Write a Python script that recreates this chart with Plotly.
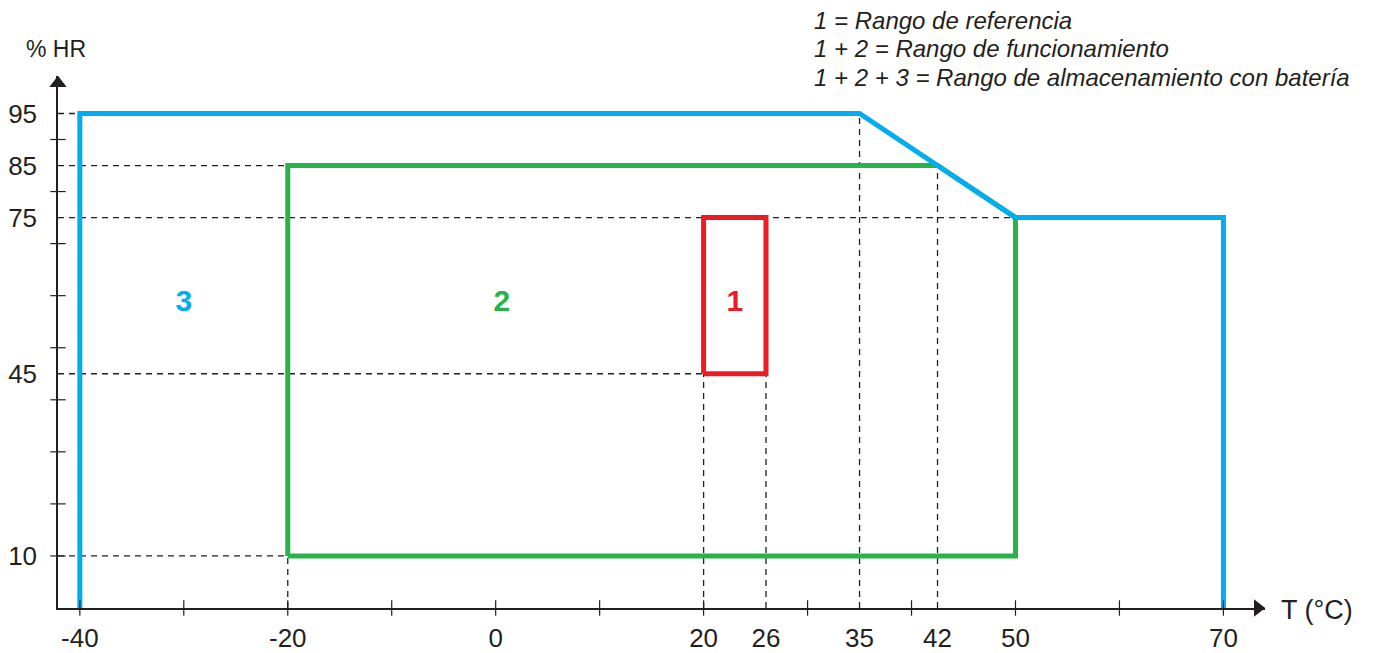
import plotly.graph_objects as go

# zone outlines, T in °C against relative humidity in %
zone3_t = [-40, -40, 35, 50, 70, 70]
zone3_hr = [0, 95, 95, 75, 75, 0]
zone2_t = [-20, -20, 42.5, 50, 50, -20]
zone2_hr = [10, 85, 85, 75, 10, 10]
zone1_t = [20, 20, 26, 26, 20]
zone1_hr = [45, 75, 75, 45, 45]

# dashed guides: horizontal ones run from the HR axis to t_end,
# vertical ones run from the T axis up to hr_end
guide_h_hr = [95, 85, 75, 45, 10]
guide_h_t_end = [-40, -20, 50, 20, -20]
guide_v_t = [-20, 20, 26, 35, 42.5]
guide_v_hr_end = [10, 45, 45, 95, 85]

x_tick_marks = [-40, -30, -20, -10, 0, 10, 20, 30, 40, 50, 60, 70]
x_tick_vals = [-40, -20, 0, 20, 26, 35, 42.5, 50, 70]
x_tick_text = ["-40", "-20", "0", "20", "26", "35", "42", "50", "70"]
y_tick_marks = [10, 20, 30, 40, 50, 60, 70, 80, 90]
y_tick_vals = [10, 45, 75, 85, 95]
y_tick_text = ["10", "45", "75", "85", "95"]

zone_labels = ["3", "2", "1"]
zone_label_t = [-30, 0.6, 23]
zone_label_hr = [58.5, 58.5, 58.5]

legend_lines = [
    "1 = Rango de referencia",
    "1 + 2 = Rango de funcionamiento",
    "1 + 2 + 3 = Rango de almacenamiento con batería",
]

BLUE = "#00AEEF"
GREEN = "#27B24A"
RED = "#ED1C24"
INK = "#231F20"
FONT = "Liberation Sans, Arial, sans-serif"
T_MIN, T_MAX = -42.1, 74
HR_MAX = 102.2

fig = go.Figure()

dash = {"color": INK, "width": 1.3, "dash": "6px,5px"}
for hr, t_end in zip(guide_h_hr, guide_h_t_end):
    fig.add_trace(go.Scatter(x=[T_MIN, t_end], y=[hr, hr], mode="lines", line=dash))
for t, hr_end in zip(guide_v_t, guide_v_hr_end):
    fig.add_trace(go.Scatter(x=[t, t], y=[0, hr_end], mode="lines", line=dash))

fig.add_trace(go.Scatter(x=zone2_t, y=zone2_hr, mode="lines",
                         line={"color": GREEN, "width": 5}))
fig.add_trace(go.Scatter(x=zone3_t, y=zone3_hr, mode="lines",
                         line={"color": BLUE, "width": 5}))
fig.add_trace(go.Scatter(x=zone1_t, y=zone1_hr, mode="lines",
                         line={"color": RED, "width": 5}))

fig.add_trace(go.Scatter(
    x=zone_label_t, y=zone_label_hr, mode="text", text=zone_labels,
    textfont={"family": FONT, "size": 30, "color": [BLUE, GREEN, RED], "weight": "bold"},
))

# tick marks crossing the axes
tick_marker = {"symbol": "line-ns-open", "size": 11, "color": INK,
               "line": {"color": INK, "width": 1.2}}
fig.add_trace(go.Scatter(
    x=x_tick_marks, y=[0] * len(x_tick_marks), mode="markers", cliponaxis=False,
    marker=tick_marker,
))
fig.add_trace(go.Scatter(
    x=[T_MIN] * len(y_tick_marks), y=y_tick_marks, mode="markers", cliponaxis=False,
    marker={**tick_marker, "symbol": "line-ew-open"},
))

# arrow heads
fig.add_trace(go.Scatter(
    x=[T_MAX - 0.7], y=[0], mode="markers", cliponaxis=False,
    marker={"symbol": "triangle-right", "size": 15, "color": INK},
))
fig.add_trace(go.Scatter(
    x=[T_MIN], y=[HR_MAX - 1.4], mode="markers", cliponaxis=False,
    marker={"symbol": "triangle-up", "size": 15, "color": INK},
))

# the page body adds an 8px offset, so the figure is sized to fit the window
fig.update_layout(
    width=1366,
    height=645,
    showlegend=False,
    paper_bgcolor="white",
    plot_bgcolor="white",
    margin={"l": 50, "r": 109, "t": 68, "b": 45},
    font={"family": FONT, "color": INK, "size": 24},
    hovermode=False,
)
fig.update_xaxes(
    range=[T_MIN, T_MAX], showgrid=False, zeroline=False, automargin=False,
    showline=True, linecolor=INK, linewidth=1.5,
    tickmode="array", tickvals=x_tick_vals, ticktext=x_tick_text,
    ticks="outside", ticklen=6, tickcolor="rgba(0,0,0,0)",
    tickfont={"size": 26},
)
fig.update_yaxes(
    range=[0, HR_MAX], showgrid=False, zeroline=False, automargin=False,
    showline=True, linecolor=INK, linewidth=1.5,
    tickmode="array", tickvals=y_tick_vals, ticktext=y_tick_text,
    ticks="outside", ticklen=14, tickcolor="rgba(0,0,0,0)",
    tickfont={"size": 26},
)

fig.add_annotation(text="% HR", xref="paper", yref="paper", x=-0.028, y=1.05,
                   xanchor="left", yanchor="middle", showarrow=False,
                   font={"size": 23})
fig.add_annotation(text="T (°C)", xref="paper", yref="paper", x=1.012, y=-0.004,
                   xanchor="left", yanchor="middle", showarrow=False,
                   font={"size": 27})
for i, line in enumerate(legend_lines):
    fig.add_annotation(text=f"<i>{line}</i>", xref="paper", yref="paper",
                       x=0.6247, y=1.105 - i * 0.0535, xanchor="left",
                       yanchor="middle", showarrow=False, font={"size": 24})

fig.write_html("out.html")
